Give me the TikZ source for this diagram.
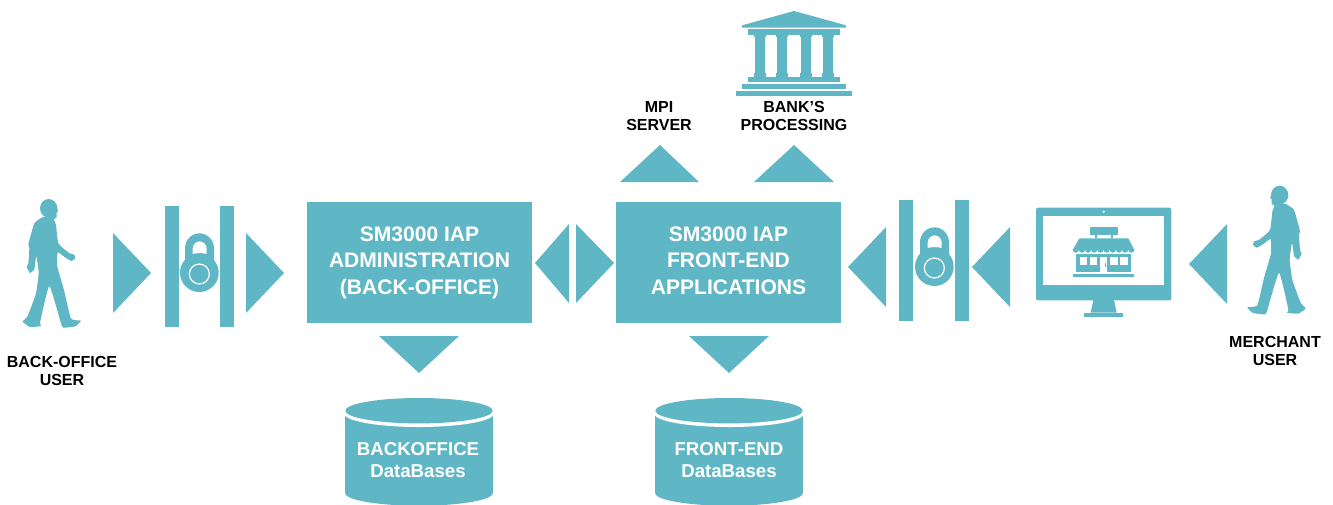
\documentclass[tikz,border=0pt]{standalone}
\usepackage{fontspec}
\setmainfont{Liberation Sans}
\definecolor{teal}{HTML}{5FB7C6}
\newcommand{\walkerfill}{%
  \fill[teal] (146,85) ellipse[x radius=26,y radius=28];
  \fill[teal] (165,80) -- (175,92) -- (170,97) -- (170,112) -- (157,120) -- (135,115) -- cycle;
  \fill[teal] plot[smooth cycle,tension=.25] coordinates {
    (158,113) (168,135) (175,190) (207,219) (223,224) (226,235) (214,243) (195,232) (173,217)
    (172,260) (192,330) (213,416) (243,422) (226,439) (190,443) (183,430) (148,318) (120,428)
    (124,438) (90,441) (68,425) (83,408) (108,340) (116,280) (113,252) (109,228) (106,245) (103,268) (90,279)
    (80,261) (85,250) (88,205) (85,193) (103,130) (129,111)};
}
\newcommand{\lockfill}{%
  \fill[teal] (598,278) circle (58);
  \fill[teal,even odd rule] (555,245) -- (555,205) arc[start angle=180,end angle=360,x radius=43.5,y radius=45] -- (642,245) -- cycle
    (578,222) -- (578,205) arc[start angle=180,end angle=360,radius=21] -- (620,222) .. controls (606,219) and (592,219) .. (578,222) -- cycle;
  \draw[white,line width=.9pt] (598,282) circle (30);
}
\tikzset{
  tone/.style={fill=teal,draw=none},
  mainbox/.style={fill=teal,draw=none,inner sep=0pt,minimum width=168.75pt,minimum height=90.75pt,text=white,align=center,font=\fontsize{15.8}{19.9}\selectfont\bfseries},
  label/.style={inner sep=0pt,align=center,text=black,font=\fontsize{12}{13.4}\selectfont\bfseries},
  dblabel/.style={inner sep=0pt,align=center,text=white,font=\fontsize{14}{16.5}\selectfont\bfseries},
}
\begin{document}
\begin{tikzpicture}[x=.75pt,y=-.75pt]
\useasboundingbox (0,0) rectangle (1333,504);
\clip (0,0) rectangle (1333,504);
% walkers
\begin{scope}[shift={(0,180)},x=.25pt,y=-.25pt]\walkerfill\end{scope}
\begin{scope}[shift={(1328.33,166.67)},x=-.25pt,y=-.25pt]\walkerfill\end{scope}
% triangles
\fill[tone] (113,233) -- (151,273) -- (113,313) -- cycle;
\fill[tone] (246,233) -- (284,273) -- (246,313) -- cycle;
\fill[tone] (569,224) -- (535,263) -- (569,303) -- cycle;
\fill[tone] (576,224) -- (614,263) -- (576,303) -- cycle;
\fill[tone] (886,227) -- (848,267) -- (886,307) -- cycle;
\fill[tone] (1010,227) -- (972,267) -- (1010,307) -- cycle;
\fill[tone] (1227,224) -- (1189,264) -- (1227,304) -- cycle;
\fill[tone] (620,182) -- (660,145) -- (699,182) -- cycle;
\fill[tone] (754,182) -- (794,145) -- (834,182) -- cycle;
\fill[tone] (379,336) -- (459,336) -- (419,373) -- cycle;
\fill[tone] (689,336) -- (769,336) -- (729,373) -- cycle;
% gates
\fill[tone] (165,206) rectangle (179,327);
\fill[tone] (220,206) rectangle (234,327);
\fill[tone] (899,200) rectangle (913,321);
\fill[tone] (955,200) rectangle (969,321);
\begin{scope}[shift={(0,180)},x=.25pt,y=-.25pt]\lockfill\end{scope}
\begin{scope}[shift={(735,174)},x=.25pt,y=-.25pt]\lockfill\end{scope}
% boxes
\node[mainbox] (admin) at (419.5,262.5) {SM3000 IAP\\ADMINISTRATION\\(BACK-OFFICE)};
\node[mainbox] (front) at (728.5,262.5) {SM3000 IAP\\FRONT-END\\APPLICATIONS\vphantom{(}};
% cylinders
\foreach \cx in {419,729}{
  \fill[tone] (\cx-74,411) -- (\cx-74,493) arc[start angle=180,end angle=0,x radius=74,y radius=12.7] -- (\cx+74,411) -- cycle;
  \fill[white] (\cx,413.5) ellipse[x radius=75,y radius=13.5];
  \fill[tone] (\cx,410.7) ellipse[x radius=73.7,y radius=12.7];
}
\node[dblabel] (dbback) at (418,460) {BACKOFFICE\\DataBases};
\node[dblabel] (dbfront) at (729,460) {FRONT-END\\DataBases};
% bank
\begin{scope}[shift={(600,0)},x=.25pt,y=-.25pt]
  \fill[tone] (426,76) -- (582,33) -- (738,76) -- (738,83) -- (426,83) -- cycle;
  \fill[tone] (445,88) rectangle (719,104);
  \fill[tone] (445,232) rectangle (719,247);
  \fill[tone] (426,252) rectangle (738,268);
  \fill[tone] (408,273) rectangle (757,289);
  \foreach \c in {480,547,617,685}{
    \fill[tone] (\c-15,104) rectangle (\c+15,232);
    \fill[tone] (\c-18,104) rectangle (\c+18,112);
    \fill[tone] (\c-18,218) rectangle (\c+18,232);
  }
\end{scope}
% monitor
\begin{scope}[shift={(1030,180)},x=.25pt,y=-.25pt]
  \fill[tone,rounded corners=1.5pt] (18,83) rectangle (424,361);
  \fill[white] (40,108) rectangle (402,315);
  \fill[white] (221,95) circle (3.5);
  \fill[tone] (190,360) -- (252,360) -- (260,398) -- (182,398) -- cycle;
  \fill[tone] (162,398) rectangle (280,410);
  \fill[tone] (180,141) rectangle (263,165);
  \fill[tone] (195,165) rectangle (200,175);
  \fill[tone] (243,165) rectangle (248,175);
  \fill[tone] (148,175) -- (295,175) -- (313,210) -- (128,210) -- cycle;
  \foreach \s in {0,...,9}{\fill[tone] (128+18.5*\s,209) arc[start angle=180,end angle=0,radius=9.25];}
  \fill[tone] (138,222) rectangle (303,275);
  \fill[white] (149,232) rectangle (172,255);
  \fill[white] (179,232) rectangle (202,255);
  \fill[white] (239,232) rectangle (263,255);
  \fill[white] (270,232) rectangle (293,255);
  \fill[white] (210,232) rectangle (232,275);
  \fill[tone] (225,248) rectangle (229,262);
  \fill[tone] (128,282) rectangle (313,291);
\end{scope}
% labels
\node[label] (backuser) at (62,371) {BACK-OFFICE\\USER};
\node[label] (merchuser) at (1275,351) {MERCHANT\\USER};
\node[label] (mpi) at (659,116) {MPI\\SERVER};
\node[label] (bank) at (794,116) {BANK’S\\PROCESSING};
\end{tikzpicture}
\end{document}
